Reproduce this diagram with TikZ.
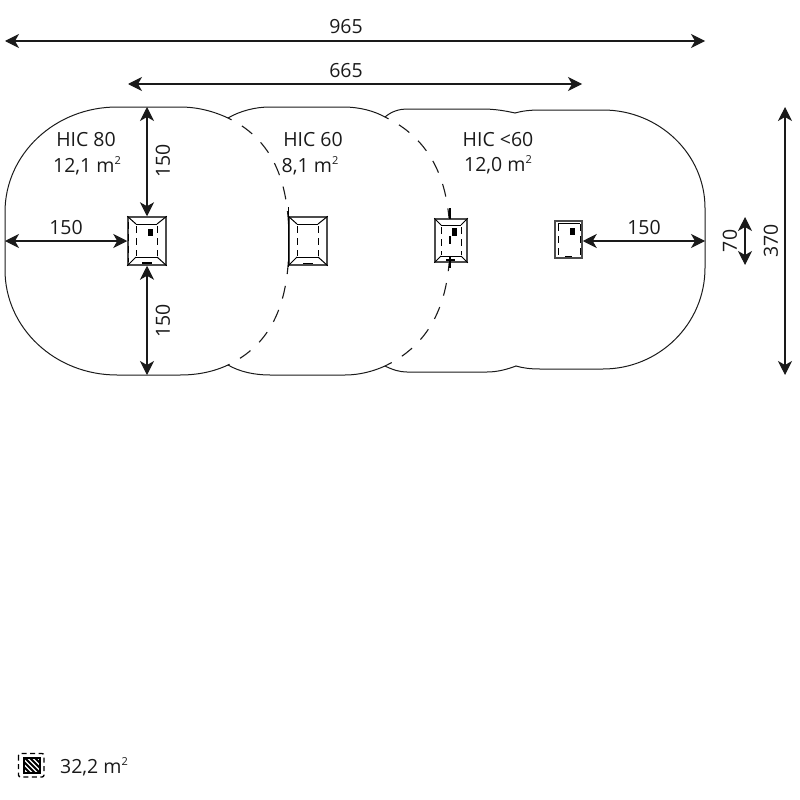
\documentclass[tikz,border=0pt]{standalone}
\usepackage{fontspec}
\setmainfont{Open Sans}
\usetikzlibrary{arrows.meta}
\newcommand{\sqm}{m\raisebox{0.42em}{\fontsize{11}{11}\selectfont 2}}
\definecolor{ink}{HTML}{1A1A1A}
\tikzset{
  lab/.style={inner sep=0pt,yshift=-1pt,text=ink,font=\fontsize{19.5}{21}\selectfont},
  dim/.style={line width=1.1pt,draw=ink,{Stealth[length=14pt,width=14pt,inset=4pt]}-{Stealth[length=14pt,width=14pt,inset=4pt]}},
  zone/.style={line width=1pt,line cap=round,draw=ink},
  zonedash/.style={line width=1.1pt,draw=ink,dash pattern=on 13pt off 12pt,dash phase=9pt},
  frame/.style={draw=black!70,line width=1.5pt,inner sep=0pt,fill=white},
  detail/.style={line width=1pt},
  dashdetail/.style={line width=1pt,dash pattern=on 7pt off 5pt},
  bar/.style={fill=black,inner sep=0pt}
}
\begin{document}
\begin{tikzpicture}[x=1pt,y=-1pt]
\useasboundingbox (0,0) rectangle (800,800);
% junction coordinates
\coordinate (jt1) at (228,118);
\coordinate (jb1) at (228,365);
\coordinate (jt2) at (385,117);
\coordinate (jb2) at (385,366);
\coordinate (jt3) at (515,113);
\coordinate (jb3) at (516,366);
% outline
\draw[zone] (jb1) .. controls (213,372) and (197,375) .. (180,375) -- (117,375)
  .. controls (55,375) and (5,328) .. (5,270) -- (5,212)
  .. controls (5,154) and (55,107) .. (117,107) -- (180,107)
  .. controls (197,107) and (213,111) .. (jt1);
\draw[zone] (jt1) .. controls (240,111) and (255,107) .. (270,107) -- (343,107)
  .. controls (360,107) and (374,111) .. (jt2);
\draw[zone] (jb1) .. controls (240,372) and (255,375) .. (270,375) -- (345,375)
  .. controls (360,375) and (374,371) .. (jb2);
\draw[zone] (jt2) .. controls (392,111) and (400,109) .. (407,109) -- (483,109)
  .. controls (495,109) and (506,111) .. (jt3);
\draw[zone] (jb2) .. controls (393,370) and (400,372) .. (407,372) -- (487,372)
  .. controls (498,372) and (508,369) .. (jb3);
\draw[zone] (jt3) .. controls (522,111) and (530,110) .. (540,110) -- (603,110)
  .. controls (659,110) and (705,154) .. (705,208) -- (705,268)
  .. controls (705,324) and (659,369) .. (603,369) -- (540,369)
  .. controls (530,369) and (523,368) .. (jb3);
% dashed HIC boundaries
\draw[zonedash] (jt1) .. controls (278,142) and (289,190) .. (289,241)
  .. controls (289,293) and (278,341) .. (jb1);
\draw[zonedash] (jt2) .. controls (437,142) and (450,190) .. (450,241)
  .. controls (450,293) and (437,341) .. (jb2);
% equipment
\node[frame,minimum width=38pt,minimum height=48pt] (e1) at (147,241) {};
\node[frame,minimum width=38pt,minimum height=48pt] (e2) at (308,241) {};
\node[frame,minimum width=32pt,minimum height=43pt] (e3) at (451,240.5) {};
\node[frame,minimum width=27pt,minimum height=37pt] (e4) at (568.5,239.5) {};
% e1 details
\draw[detail] (136,224) -- (157,224) (136,257) -- (157,257);
\draw[dashdetail] (136,226) -- (136,256) (157,226) -- (157,256);
\draw[dashdetail,line width=1.2pt] (128.5,222) -- (128.5,262);
\draw[detail] (e1.north west) -- (136,224) (e1.north east) -- (157,224) (e1.south west) -- (136,257) (e1.south east) -- (157,257);
\node[bar,minimum width=5pt,minimum height=7pt] (b1) at (150.5,232) {};
\draw[line width=1.2pt] (142,263) -- (152,263);
% e2 details
\draw[detail] (297,224) -- (318,224) (297,257) -- (318,257);
\draw[dashdetail] (297,226) -- (297,256) (318,226) -- (318,256);
\draw[detail] (e2.north west) -- (297,224) (e2.north east) -- (318,224) (e2.south west) -- (297,257) (e2.south east) -- (318,257);
\draw[line width=1.2pt] (303,263.5) -- (313,263.5);
\draw[line width=1.2pt] (e2.north west) ++(0,-9) -- ++(0,60);
% e3 details
\draw[detail] (441,225) -- (461,225) (441,256) -- (461,256);
\draw[dashdetail] (441,227) -- (441,255) (461,227) -- (461,255);
\draw[detail] (e3.north west) -- (441,225) (e3.north east) -- (461,225) (e3.south west) -- (441,256) (e3.south east) -- (461,256);
\node[bar,minimum width=5pt,minimum height=8pt] (b3) at (454,232) {};
\draw[line width=1.1pt] (450,208) -- (450,219) (450,236) -- (450,244) (450,257) -- (450,268) (446,260) -- (455,260);
% e4 details
\draw[dashdetail] (558,224) -- (558,256) (580,224) -- (580,256);
\draw[detail] (558,223) -- (580,223);
\node[bar,minimum width=5pt,minimum height=7pt] (b4) at (572,231) {};
\draw[line width=1.4pt] (565,256.5) -- (572,256.5);
% dimensions
\coordinate (l965) at (5,41); \coordinate (r965) at (705,41);
\coordinate (l665) at (128,84); \coordinate (r665) at (582,84);
\coordinate (top1) at (147,107); \coordinate (bot1) at (147,375);
\coordinate (lft) at (5,241); \coordinate (rgt) at (705,241);
\coordinate (t70) at (745,217); \coordinate (b70) at (745,265);
\coordinate (t370) at (785,107); \coordinate (b370) at (785,375);
\draw[dim] (l965) -- (r965);
\draw[dim] (l665) -- (r665);
\draw[dim] (top1) -- (e1.north);
\draw[dim] (e1.south) -- (bot1);
\draw[dim] (lft) -- (e1.west |- lft);
\draw[dim] (e4.east |- rgt) -- (rgt);
\draw[dim] (t70) -- (b70);
\draw[dim] (t370) -- (b370);
% labels
\node[lab] (n965) at (346,26) {965};
\node[lab] (n665) at (346,70) {665};
\node[lab] (h80) at (86,139) {HIC 80};
\node[lab] (a80) at (87,165) {12,1 \sqm};
\node[lab] (h60) at (313,139) {HIC 60};
\node[lab] (a60) at (310,165) {8,1 \sqm};
\node[lab] (h50) at (498,139) {HIC <60};
\node[lab] (a50) at (498,164) {12,0 \sqm};
\node[lab,rotate=90] (d1) at (163,160) {150};
\node[lab,rotate=90] (d2) at (163,320) {150};
\node[lab] (d3) at (66,227) {150};
\node[lab] (d4) at (644,227) {150};
\node[lab,rotate=90] (d70) at (730,240) {70};
\node[lab,rotate=90] (d370) at (771,240) {370};
% legend
\draw[line width=1.3pt,rounded corners=2pt,dash pattern=on 5pt off 3.5pt] (18.5,753.5) rectangle (44,777);
\begin{scope}
\clip (24,758) rectangle (40,773);
\foreach \k in {-16,-11,...,16} \draw[line width=1.9pt] (24+\k,756) -- (44+\k,776);
\end{scope}
\node[draw,line width=1.2pt,inner sep=0pt,minimum width=16pt,minimum height=15pt] (leg) at (32,765.5) {};
\node[lab] (legt) at (94,766) {32,2 \sqm};
\end{tikzpicture}
\end{document}
